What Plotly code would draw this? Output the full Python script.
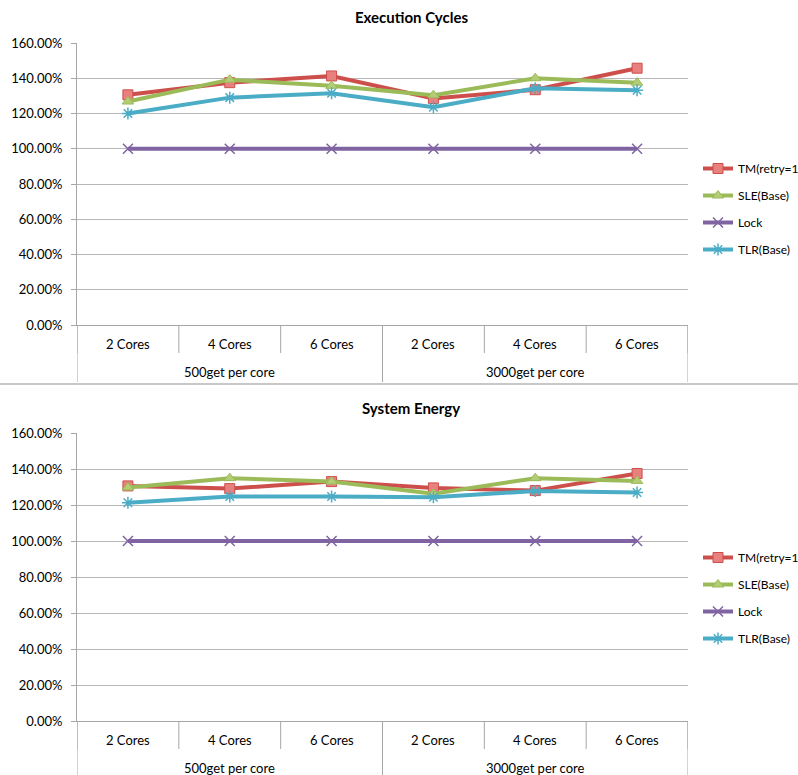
import plotly.graph_objects as go

groups = ["500get per core", "3000get per core"]
group_sizes = [3, 3]
cores = ["2 Cores", "4 Cores", "6 Cores", "2 Cores", "4 Cores", "6 Cores"]
series_names = ["TM(retry=1", "SLE(Base)", "Lock", "TLR(Base)"]

cycles_tm = [130.6, 137.5, 141.3, 128.5, 133.5, 145.7]
cycles_sle = [126.8, 139.2, 135.7, 130.4, 140.0, 137.5]
cycles_lock = [100, 100, 100, 100, 100, 100]
cycles_tlr = [120.0, 129.0, 131.5, 123.5, 134.3, 133.2]

energy_tm = [130.6, 129.1, 133.0, 129.5, 128.0, 137.5]
energy_sle = [129.7, 134.9, 133.0, 126.3, 134.9, 133.4]
energy_lock = [100, 100, 100, 100, 100, 100]
energy_tlr = [121.3, 124.7, 124.7, 124.3, 127.8, 126.9]

y_ticks = [0, 20, 40, 60, 80, 100, 120, 140, 160]

line_colors = ["#CD4F4B", "#9BBB59", "#8064A2", "#4BACC6"]
marker_fill = ["#E8807D", "#B3CD76", "#8064A2", "#4BACC6"]
symbols = ["square", "triangle-up", "x-thin-open", "asterisk-open"]

FONT = "Lato, Carlito, Calibri, sans-serif"
W, H = 798, 775
GRAY = "#A6A6A6"


def px_x(v):
    return v / W


def px_y(v):
    return 1 - v / H


idx = list(range(len(cores)))

fig = go.Figure()
panels = [
    dict(vals=[cycles_tm, cycles_sle, cycles_lock, cycles_tlr], xa="x", ya="y", lg="legend",
         top=43, bottom=325, title="Execution Cycles", title_y=17, sep=384),
    dict(vals=[energy_tm, energy_sle, energy_lock, energy_tlr], xa="x2", ya="y2", lg="legend2",
         top=433, bottom=721, title="System Energy", title_y=408, sep=None),
]

shapes = []
annotations = []

for p_i, p in enumerate(panels):
    for i, name in enumerate(series_names):
        open_sym = symbols[i].endswith("open")
        fig.add_trace(go.Scatter(
            x=idx, y=p["vals"][i], name=name, mode="lines+markers",
            xaxis=p["xa"], yaxis=p["ya"], legend=p["lg"], legendgroup=f"{p_i}-{i}",
            line=dict(color=line_colors[i], width=4),
            marker=dict(symbol=symbols[i], size=10, color=marker_fill[i],
                        line=dict(color=marker_fill[i] if open_sym else line_colors[i],
                                  width=1.5 if open_sym else 1)),
        ))
    xref = p["xa"]
    ax_bot = p["bottom"]
    # inner category dividers
    for k in range(len(cores) + 1):
        shapes.append(dict(type="line", xref=xref, yref="paper",
                           x0=k - 0.5, x1=k - 0.5,
                           y0=px_y(ax_bot), y1=px_y(ax_bot + 28),
                           line=dict(color=GRAY, width=1)))
    # inner labels
    for k, c in enumerate(cores):
        annotations.append(dict(text=c, x=k, y=px_y(ax_bot + 19), xref=xref, yref="paper",
                                showarrow=False, xanchor="center", yanchor="middle",
                                font=dict(family=FONT, size=13, color="#000")))
    # group labels and dividers
    start = 0
    bounds = [-0.5]
    for g, n in zip(groups, group_sizes):
        annotations.append(dict(text=g, x=start + (n - 1) / 2, y=px_y(ax_bot + 47),
                                xref=xref, yref="paper", showarrow=False,
                                xanchor="center", yanchor="middle",
                                font=dict(family=FONT, size=13, color="#000")))
        start += n
        bounds.append(start - 0.5)
    for b in bounds:
        shapes.append(dict(type="line", xref=xref, yref="paper", x0=b, x1=b,
                           y0=px_y(ax_bot), y1=px_y(ax_bot + 57),
                           line=dict(color=GRAY, width=1)))
    annotations.append(dict(text=f"<b>{p['title']}</b>", x=px_x(411), y=px_y(p["title_y"]),
                            xref="paper", yref="paper", showarrow=False,
                            xanchor="center", yanchor="middle",
                            font=dict(family=FONT, size=15, color="#000")))
    if p["sep"]:
        shapes.append(dict(type="line", xref="paper", yref="paper", x0=0, x1=1,
                           y0=px_y(p["sep"]), y1=px_y(p["sep"]),
                           line=dict(color="#C8C8C8", width=2)))

xcommon = dict(
    range=[-0.5, len(cores) - 0.5], domain=[px_x(77), px_x(688)],
    showline=True, linecolor=GRAY, linewidth=1, showgrid=False, zeroline=False,
    showticklabels=False, ticks="", automargin=False, fixedrange=True,
)
ycommon = dict(
    range=[0, 160], tickvals=y_ticks, ticktext=[f"{v:.2f}%" for v in y_ticks],
    showgrid=True, gridcolor="#B7B7B7", gridwidth=1,
    showline=True, linecolor=GRAY, linewidth=1,
    ticks="outside", ticklen=5, tickcolor=GRAY, ticklabelstandoff=6,
    zeroline=False, automargin=False,
    tickfont=dict(family=FONT, size=13, color="#000000"),
)

legend_common = dict(xanchor="left", yanchor="top", tracegroupgap=8,
                     font=dict(family=FONT, size=12, color="#000"),
                     bgcolor="rgba(0,0,0,0)", itemwidth=30)

fig.update_layout(
    width=W, height=H, margin=dict(l=0, r=0, t=0, b=0, autoexpand=False),
    paper_bgcolor="white", plot_bgcolor="white",
    font=dict(family=FONT, size=13, color="#000000"),
    xaxis=dict(xcommon, anchor="y"),
    yaxis=dict(ycommon, domain=[px_y(325), px_y(43)], anchor="x"),
    xaxis2=dict(xcommon, anchor="y2"),
    yaxis2=dict(ycommon, domain=[px_y(721), px_y(433)], anchor="x2"),
    legend=dict(legend_common, x=px_x(698), y=px_y(154)),
    legend2=dict(legend_common, x=px_x(698), y=px_y(543)),
    annotations=annotations,
    shapes=shapes,
)

fig.write_html("out.html")
